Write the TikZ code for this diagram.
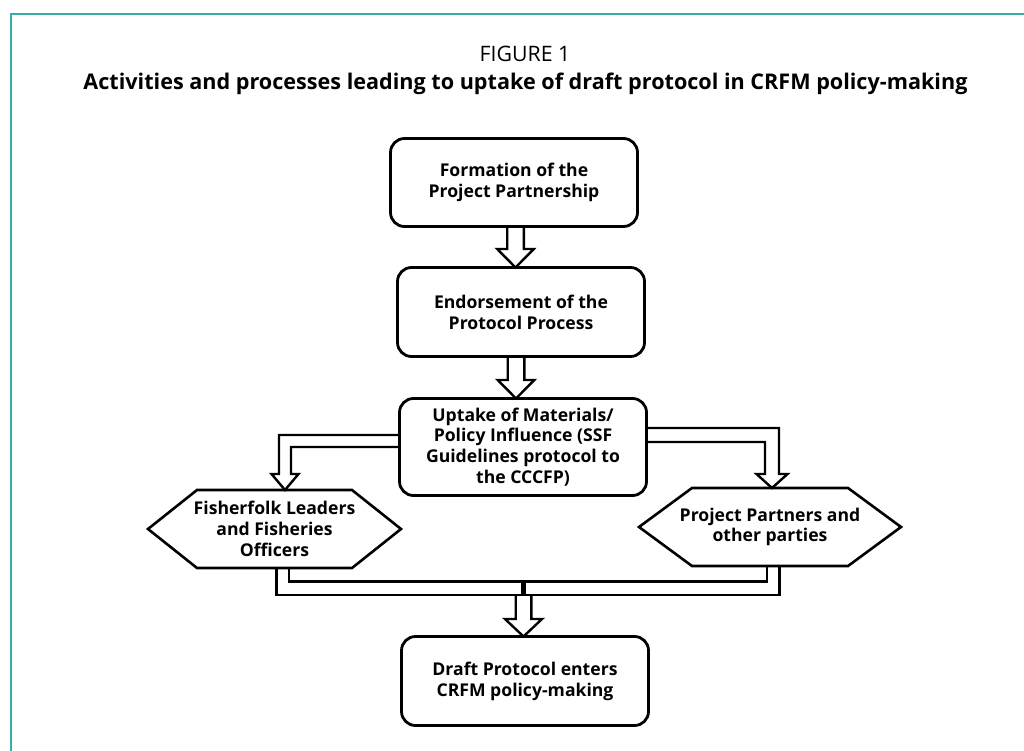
\documentclass[tikz,border=0pt]{standalone}
\usepackage{fontspec}
\setmainfont{Open Sans}
\usetikzlibrary{calc}
\definecolor{frameteal}{RGB}{58,172,166}
\tikzset{
  lbl/.style={align=center, inner sep=0pt, outer sep=0pt, font=\fontsize{17.6}{20.8}\selectfont\bfseries},
  boxnode/.style={lbl, draw, line width=2.8pt, rounded corners=14pt, minimum width=247pt},
  hexline/.style={line width=2.6pt, line join=miter},
  conn/.style={line width=2.4pt, line join=miter},
}
\newcommand\vblockarrow[5]{% #1 top, #2 tip, #3 half shaft, #4 half head, #5 head length
  \draw[conn] ($(#1)+(-#3,0)$) -- ($(#2)+(-#3,-#5)$) -- ($(#2)+(-#4,-#5)$) -- (#2)
    -- ($(#2)+(#4,-#5)$) -- ($(#2)+(#3,-#5)$) -- ($(#1)+(#3,0)$);}
\begin{document}
\begin{tikzpicture}[x=1pt,y=-1pt]
\useasboundingbox (0,0) rectangle (1024,751);
% frame
\draw[frameteal, line width=2pt] (10.7,751) -- (10.7,14) -- (1024,14);
% titles
\node[anchor=base, inner sep=0pt, font=\fontsize{21.3}{25}\selectfont] (fig) at (525,61.7) {FIGURE 1};
\node[anchor=base, inner sep=0pt, font=\fontsize{21.6}{25}\selectfont\bfseries] (ttl) at (525.5,89.3)
  {Activities and processes leading to uptake of draft protocol in CRFM policy-making};
% boxes
\node[boxnode, minimum height=88pt] (b1) at (514,182.5) {Formation of the\\Project Partnership};
\node[boxnode, minimum height=89pt] (b2) at (521,312) {Endorsement of the\\Protocol Process};
\node[boxnode, minimum height=97pt] (b3) at (523,447) {Uptake of Materials/\\Policy Influence (SSF\\Guidelines protocol to\\the CCCFP)};
\node[boxnode, minimum height=89pt] (b4) at (525,681) {Draft Protocol enters\\CRFM policy-making};
% hexagons
\node[lbl, minimum width=253pt, minimum height=78pt] (h1) at (274.5,529) {Fisherfolk Leaders\\and Fisheries\\Officers};
\draw[hexline] (h1.west) -- ($(h1.north west)+(49,0)$) -- ($(h1.north east)+(-49,0)$) -- (h1.east)
  -- ($(h1.south east)+(-49,0)$) -- ($(h1.south west)+(49,0)$) -- cycle;
\node[lbl, minimum width=262pt, minimum height=78pt] (h2) at (770,527) {Project Partners and\\other parties};
\draw[hexline] (h2.west) -- ($(h2.north west)+(53,0)$) -- ($(h2.north east)+(-53,0)$) -- (h2.east)
  -- ($(h2.south east)+(-53,0)$) -- ($(h2.south west)+(53,0)$) -- cycle;
% vertical block arrows
\coordinate (a1s) at ($(b1.south)+(1.5,0)$);
\coordinate (a1e) at (a1s |- b2.north);
\vblockarrow{a1s}{a1e}{8.3}{18.3}{18.5}
\coordinate (a2s) at ($(b2.south)+(-5,0)$);
\coordinate (a2e) at (a2s |- b3.north);
\vblockarrow{a2s}{a2e}{8.3}{18.3}{18.5}
% left branch
\coordinate (lt) at ($(h1.north)+(10.5,0)$);
\draw[conn] ($(b3.west)+(0,-12)$) -| ($(lt)+(-6,-16)$) -- ($(lt)+(-13.5,-16)$) -- (lt)
  -- ($(lt)+(13.5,-16)$) -- ($(lt)+(6,-16)$) |- (b3.west);
% right branch
\coordinate (rt) at ($(h2.north)+(2,0)$);
\draw[conn] ($(b3.east)+(0,-19)$) -| ($(rt)+(7,-14)$) -- ($(rt)+(15.5,-14)$) -- (rt)
  -- ($(rt)+(-15.5,-14)$) -- ($(rt)+(-7,-14)$) |- ($(b3.east)+(0,-5)$);
% merging connectors
\draw[conn] ($(h1.south)+(14.5,0)$) |- ($(h2.south)+(-3,15.5)$) -- ($(h2.south)+(-3,0)$);
\draw[conn] ($(h1.south)+(2,0)$) |- ($(h2.south)+(9.5,29)$) -- ($(h2.south)+(9.5,0)$);
\coordinate (bt) at ($(b4.north)+(-1.5,0)$);
\coordinate (btop) at ($(bt)+(0,-41.5)$);
\draw[line width=4.5pt] ($(bt)+(0,-55)$) -- (btop);
\vblockarrow{btop}{bt}{7.8}{18.5}{17.5}
\end{tikzpicture}
\end{document}
